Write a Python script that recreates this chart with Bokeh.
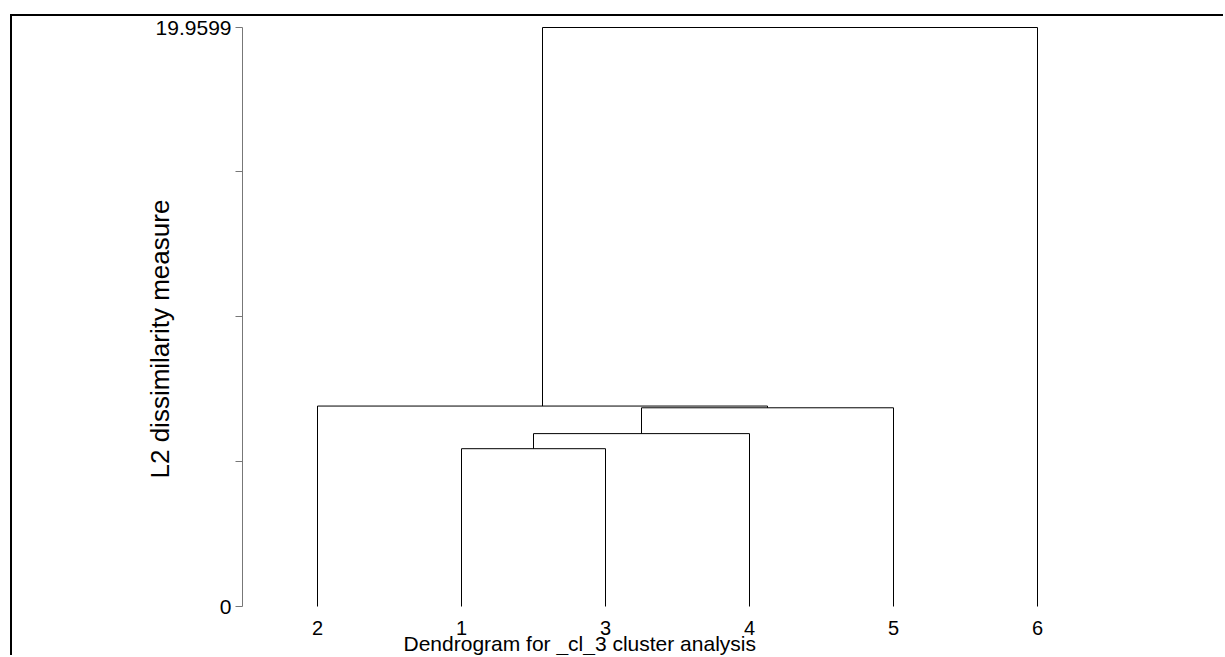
from bokeh.plotting import figure
from bokeh.models import Range1d, FixedTicker, Title
from bokeh.embed import file_html
from bokeh.resources import INLINE

# ---- data ----
leaf_order = [2, 1, 3, 4, 5, 6]            # leaves in plotted order
merge_left = [1, 7, 8, 2, 10]               # clusters 1..6 leaves, 7.. merged nodes
merge_right = [3, 4, 5, 9, 6]
merge_height = [5.44, 5.96, 6.85, 6.91, 19.9599]
y_ticks = [0, 5, 10, 15, 19.9599]
y_tick_labels = ["0", "", "", "", "19.9599"]
y_title = "L2 dissimilarity measure"
x_title = "Dendrogram for _cl_3 cluster analysis"

# ---- build dendrogram segments ----
pos = {leaf: i + 1 for i, leaf in enumerate(leaf_order)}
hgt = {leaf: 0.0 for leaf in leaf_order}
xs, ys = [], []
node = len(leaf_order) + 1
for a, b, h in zip(merge_left, merge_right, merge_height):
    xa, xb = pos[a], pos[b]
    xs.append([xa, xa, xb, xb])
    ys.append([hgt[a], h, h, hgt[b]])
    pos[node] = (xa + xb) / 2.0
    hgt[node] = h
    node += 1

FONT = "Liberation Sans"
W, H = 1213, 641
ppu_y = 579 / 19.9599

p = figure(width=W, height=H, output_backend="svg", toolbar_location=None,
           x_range=Range1d(1 - 75 / 144.0, 7.0),
           y_range=Range1d(-1 / ppu_y, 19.9599 + 1 / ppu_y),
           min_border_left=230, min_border_right=44,
           min_border_top=10, min_border_bottom=50)
p.margin = (14, 0, 0, 10)
p.styles = {"border-top": "2px solid black", "border-left": "2px solid black"}
p.outline_line_color = None
p.xgrid.grid_line_color = None
p.ygrid.grid_line_color = None
p.background_fill_color = "white"
p.border_fill_color = "white"

p.multi_line(xs, ys, line_color="black", line_width=1)

# y axis
ya = p.yaxis[0]
ya.ticker = FixedTicker(ticks=y_ticks)
ya.major_label_overrides = {t: l for t, l in zip(y_ticks, y_tick_labels)}
ya.bounds = (0, 19.9599)
ya.axis_line_color = "#777777"
ya.major_tick_line_color = "#777777"
ya.major_tick_out = 7
ya.major_tick_in = 0
ya.minor_tick_line_color = None
ya.major_label_standoff = 4
ya.major_label_text_font = FONT
ya.major_label_text_font_size = "21px"
ya.major_label_text_color = "black"

# x axis
xa = p.xaxis[0]
xa.ticker = FixedTicker(ticks=[pos[l] for l in leaf_order])
xa.major_label_overrides = {pos[l]: str(l) for l in leaf_order}
xa.axis_line_color = None
xa.major_tick_line_color = None
xa.minor_tick_line_color = None
xa.major_tick_out = 0
xa.major_tick_in = 0
xa.major_label_standoff = 13
xa.major_label_text_font = FONT
xa.major_label_text_font_size = "20px"
xa.major_label_text_color = "black"

# axis titles
p.add_layout(Title(text=y_title, align="left", vertical_align="bottom",
                   offset=129, standoff=-44,
                   text_font=FONT, text_font_size="26px", text_font_style="normal",
                   text_color="black"), "left")
p.add_layout(Title(text=x_title, align="left", vertical_align="top",
                   offset=161, standoff=-12,
                   text_font=FONT, text_font_size="21px", text_font_style="normal",
                   text_color="black"), "below")

open("out.html", "w").write(file_html(p, INLINE))
